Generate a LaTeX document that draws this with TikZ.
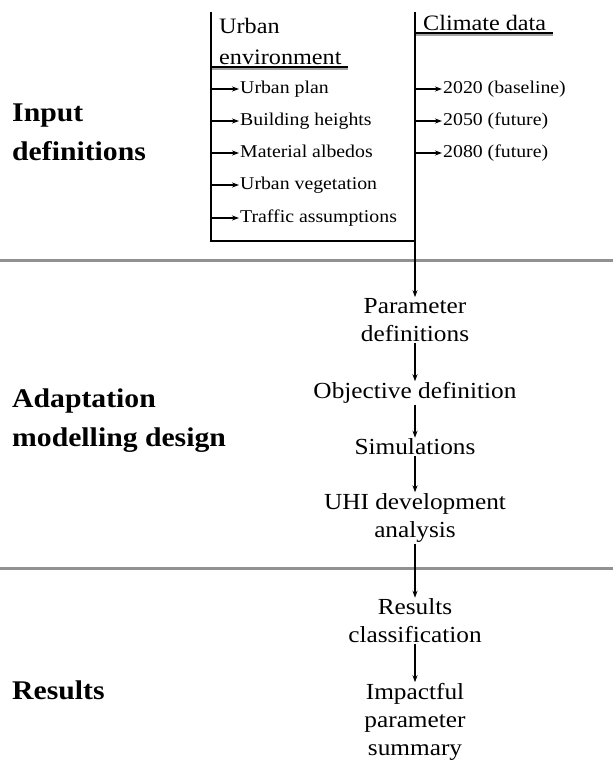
\documentclass[tikz,border=0pt]{standalone}
\usepackage{fontspec}
\setmainfont[FakeStretch=1.1]{Liberation Serif}
\usetikzlibrary{arrows.meta}
\definecolor{sepgray}{RGB}{145,145,145}
\definecolor{shadegray}{RGB}{165,165,165}

\begin{document}
\begin{tikzpicture}
		[x=1pt,y=-1pt]
			\tikzstyle{head}=[anchor=west, align=left, inner sep=0pt,
		font=\bfseries\fontsize{27}{39}\selectfont]
			\tikzstyle{title}=[anchor=west, align=left, inner sep=0pt,
		font=\fontsize{22}{31}\selectfont]
			\tikzstyle{item}=[anchor=west, inner sep=1pt, text height=12pt, text depth=3pt,
		font=\fontsize{18}{22}\selectfont]
			\tikzstyle{flow}=[align=center, inner sep=1pt, font=\fontsize{23}{28}\selectfont]
			\tikzstyle{arr}=[-{Stealth[length=7pt,width=5pt]}, line width=1.1pt]
			\tikzstyle{edge}=[line width=1.4pt]
			\tikzstyle{sep}=[sepgray, line width=3pt]
		\useasboundingbox (0,0) rectangle (613,767);
		%-----section labels
		 \node[head] (inp) at (12,132) {Input\\definitions};
		 \node[head] (ada) at (12,421) {Adaptation\\modelling design};
		 \node[head] (res) at (12,690) {Results};
		 
		 \draw[sep] (0,260) -- (613,260);
		 \draw[sep] (0,568) -- (613,568);
		 
		%-----input boxes
		 \coordinate (ul) at (211,12);
		 \coordinate (ll) at (211,241);
		 \coordinate (cl) at (415,12);
		 \coordinate (lr) at (415,241);
		 
		 \node[title] (urb) at (219,41) {Urban\\environment};
		 \node[title] (clim) at (423,23) {Climate data};
		 
		 \draw[shadegray, line width=2pt] (211,69) -- (348,69);
		 \draw[line width=1.4pt] (211,67) -- (348,67);
		 \draw[shadegray, line width=2pt] (415,35) -- (553,35);
		 \draw[line width=1.4pt] (415,33) -- (553,33);
		 
		 \draw[edge] (ul) -- (ll) -- (lr);
		 
		 \foreach \n/\t/\y in {up/Urban plan/89, bh/Building heights/121, ma/Material albedos/153,
		 uv/Urban vegetation/185, ta/Traffic assumptions/218}
		 \node[item] (\n) at (239,\y) {\t};
		 
		 \foreach \n/\t/\y in {base/2020 (baseline)/89, fut/2050 (future)/121, far/2080 (future)/153}
		 \node[item] (\n) at (442,\y) {\t};
		 
		 \foreach \n in {up, bh, ma, uv, ta}
		 \draw[arr] (ul |- \n) -- (\n);
		 \foreach \n in {base, fut, far}
		 \draw[arr] (cl |- \n) -- (\n);
		 
		%-----flow
		 \node[flow] (param) at (415,320) {Parameter\\definitions};
		 \node[flow] (obj) at (415,393) {Objective definition};
		 \node[flow] (sim) at (415,447) {Simulations};
		 \node[flow] (uhi) at (415,518) {UHI development\\analysis};
		 \node[flow] (cls) at (415,621) {Results\\classification};
		 \node[flow] (imp) at (415,722) {Impactful\\parameter\\summary};
		 
		 \draw[edge] (cl) -- (lr);
		 \draw[arr] (lr) -- (param);
		 
		 \foreach \from/\to in {param/obj, obj/sim, sim/uhi, uhi/cls, cls/imp}
		 \draw[arr] (\from) -- (\to);
		 
\end{tikzpicture}
\end{document}
